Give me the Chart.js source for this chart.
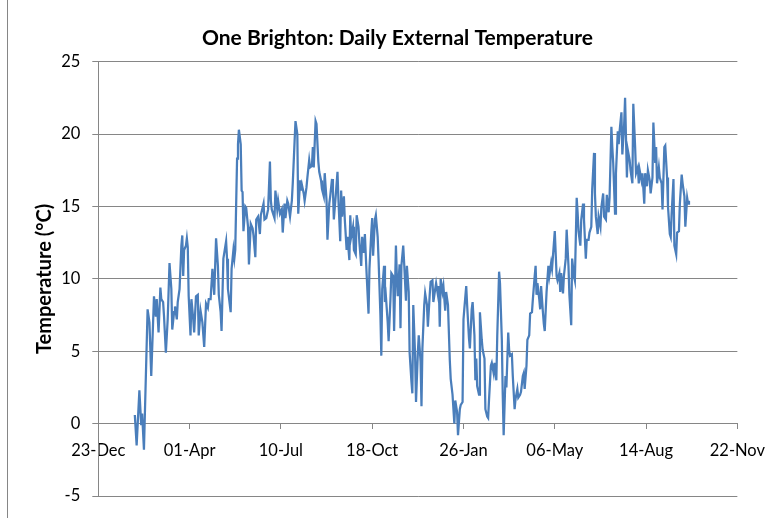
<!DOCTYPE html>
<html><head><meta charset="utf-8">
<script src="https://cdn.jsdelivr.net/npm/chart.js@4.4.0/dist/chart.umd.min.js"></script>
<style>html,body{margin:0;padding:0;background:#fff;} #wrap{width:777px;height:518px;}</style>
</head><body>
<div id="wrap"><canvas id="c" width="777" height="518"></canvas></div>
<script>
// Day offsets counted from 23-Dec-2011 (the first axis tick); one value per reading
const dayOffsets = [
  40,42,45,47,48, 50,54,56,58,61, 63,64,66,68,69, 71,72,74,76,78, 80,81,83,84,86, 87,89,91,92,93, 94,96,97,98,99, 101,102,104,105,107, 109,110,
  112,114,116,118,120, 121,123,125,127,128, 129,131,132,134,135, 137,140,141,142,145, 146,148,149,150,152, 153,154,156,157,158, 159,161,162,164,165, 167,169,170,172,173, 175,177,178,181,182, 184,185,
  186,188,189,190,193, 194,196,197,199,201, 202,204,205,207,208, 210,212,213,215,216, 218,219,221,222,223, 225,226,228,229,231, 232,234,235,236,238, 239,241,242,244,245, 247,248,250,251,253, 254,256,257,258,
  260,262,263,265,266, 267,269,270,272,273, 275,276,277,279,280, 282,283,285,286,288, 289,291,292,293,294, 296,297,299,300,301, 303,304,306,307,309, 310,311,313,314,315, 317,318,320,321,323, 324,326,327,328,330, 331,332,334,335,337, 338,340,341,343,
  344,345,347,348,350, 351,353,354,355,357, 358,360,361,363,364, 366,367,369,370,372, 373,374,375,377,378, 380,381,383,384,385, 386,388,389,390,391, 393,394,396,397,399, 400,401,403,404,406, 407,409,410,412,413, 414,
  415,417,418,420,421, 423,424,426,427,428, 430,431,433,434,436, 437,439,440,442,443, 444,446,447,449,450, 451,453,454,456,457, 459,460,462,463,465, 466,467,469,470,472, 473,475,476,478,479, 480,481,483,484,485, 487,488,489,
  491,493,494,496,497, 500,502,503,505,506, 507,509,510,512,513, 515,516,518,519,521, 522,524,525,526,528, 529,531,532,534,535, 537,538,540,541,543, 544,545,547,548,550, 551,553,554,556,557, 559,560,562,563,564,
  566,567,569,570,571, 573,574,576,577,579, 580,582,583,585,586, 588,589,591,592,593, 595,596,598,599,601, 602,604,605,607,608, 610,611,612,614,615, 617,618,620,621,623, 624,626,627,628,630, 631,633,634,636,637, 639,640,642,643,645, 646,647
];
// Daily external temperature (°C)
const temperatures = [
  0.6,-1.5,2.3,-0.1,0.7, -1.8,7.9,7.0,3.3,8.8, 7.4,8.6,6.3,9.4,8.6, 8.4,7.4,4.9,7.2,11.1, 9.3,6.5,7.7,8.1,7.2, 8.4,9.3,12.3,13.0,10.2, 12.0,12.3,12.8,12.2,8.8, 6.1,8.6,7.2,6.3,8.8, 8.9,6.1,
  7.8,7.0,5.3,8.3,8.0, 8.6,8.6,10.7,8.9,10.9, 12.8,10.9,8.9,7.7,6.4, 11.4,12.6,11.4,9.3,7.7, 10.7,12.0,11.4,12.0,18.3, 19.3,20.3,19.3,16.1,16.0, 13.3,15.0,14.9,13.6,11.0, 13.8,13.5,13.0,11.5,14.1, 14.3,13.1,14.4,15.2,14.1, 14.2,14.5,
  14.8,18.1,15.4,14.8,14.2, 16.1,14.8,15.4,14.5,14.8, 13.2,15.2,14.2,15.4,15.2, 14.3,15.4,16.6,19.5,20.9, 20.0,14.5,16.8,16.1,16.5, 15.9,15.4,16.3,17.0,18.2, 17.7,17.8,19.1,17.7,20.9, 20.7,18.1,17.4,16.8,16.2, 15.7,17.3,15.4,12.7,15.2, 15.7,16.9,16.1,14.1,
  15.7,17.4,15.5,12.6,16.1, 14.3,15.7,14.1,12.0,12.9, 11.3,14.4,12.9,13.6,12.0, 11.7,14.4,13.6,12.5,10.9, 12.9,11.8,13.1,11.6,10.2, 7.6,10.7,13.2,14.2,11.6, 14.1,14.4,12.9,11.3,7.5, 4.7,9.3,10.9,8.4,8.8, 7.0,5.7,8.6,10.4,10.2, 6.4,12.3,10.2,8.8,11.0, 6.6,10.9,12.3,11.1,8.5, 10.9,9.1,4.9,2.9,
  2.1,8.2,4.7,1.5,4.9, 6.1,4.3,1.2,5.2,8.2, 9.0,8.2,6.7,8.9,9.8, 9.9,8.4,9.3,9.7,8.9, 9.5,6.7,10.0,9.1,9.5, 7.8,9.1,8.2,6.3,4.4, 3.1,2.0,1.0,0.0,1.6, 0.8,-0.8,1.0,1.3,1.5, 7.2,8.0,9.5,8.2,5.9, 5.2,7.9,8.4,6.1,3.0, 4.5,
  2.6,2.0,7.7,5.8,5.1, 4.5,1.0,0.5,0.4,1.7, 4.0,4.2,3.5,4.2,3.0, 6.1,10.5,9.7,5.8,2.0, -0.8,3.3,2.5,6.3,5.1, 4.7,4.8,3.3,1.0,1.7, 2.4,1.8,2.0,2.2,3.3, 3.5,2.4,4.0,5.8,6.1, 7.6,7.7,8.6,10.2,10.9, 8.9,9.7,8.6,7.9,9.5, 7.7,6.9,6.4,
  9.1,10.9,10.2,11.1,10.7, 13.3,10.2,9.9,10.4,9.1, 10.4,9.0,10.2,11.4,13.4, 10.9,8.9,6.8,11.4,10.2, 9.9,15.6,14.6,13.3,12.3, 14.1,15.2,14.1,11.4,12.7, 12.7,13.2,13.6,16.2,18.7, 15.9,14.3,13.1,14.3,13.6, 14.9,15.9,14.3,14.1,15.8, 14.6,15.6,20.5,19.1,18.0,
  14.5,17.3,20.2,19.3,20.2, 21.5,18.6,20.7,22.5,17.0, 18.9,18.2,17.5,16.6,22.1, 19.1,17.3,17.7,16.6,17.5, 16.8,17.3,15.2,17.3,16.4, 17.5,16.8,15.9,17.0,20.8, 18.0,19.1,16.6,17.7,17.0, 16.6,14.8,19.1,19.2,17.0, 15.0,13.1,12.9,14.5,16.9, 12.3,11.7,13.2,13.3,15.2, 17.2,16.6,15.7,13.6,15.6, 15.2,15.4
];
// X-axis tick labels, one every 100 days from 23-Dec
const xTickLabels = ['23-Dec','01-Apr','10-Jul','18-Oct','26-Jan','06-May','14-Aug','22-Nov'];
const yMin = -5, yMax = 25, yStep = 5;
const chartTitle = 'One Brighton: Daily External Temperature';
const yTitle = 'Temperature (\u00B0C)';

if (dayOffsets.length !== temperatures.length) console.error('length mismatch', dayOffsets.length, temperatures.length);

const GRID = '#868686';
const FONT = 'Lato';

const borderPlugin = {
  id: 'outerBorder',
  afterDraw(chart) {
    const c = chart.ctx;
    c.save();
    c.strokeStyle = GRID; c.lineWidth = 1;
    c.beginPath(); c.moveTo(7.5, 0); c.lineTo(7.5, chart.height); c.stroke();
    c.restore();
  }
};

new Chart(document.getElementById('c').getContext('2d'), {
  type: 'line',
  data: {
    datasets: [{
      data: dayOffsets.map((d, i) => ({ x: d, y: temperatures[i] })),
      borderColor: '#4A7EBB', borderWidth: 2.25, pointRadius: 0, tension: 0, fill: false
    }]
  },
  options: {
    responsive: false, animation: false, devicePixelRatio: 1,
    layout: { padding: { left: 18, right: 0, top: 0, bottom: 20.1 } },
    plugins: {
      legend: { display: false }, tooltip: { enabled: false },
      title: { display: true, text: chartTitle, color: '#000',
        font: { family: FONT, size: 21, weight: 'bold' }, padding: { top: 25.9, bottom: 10.6 } }
    },
    scales: {
      x: {
        type: 'linear', position: { y: 0 }, min: 0, max: 700,
        ticks: { stepSize: 100, autoSkip: false, maxRotation: 0, color: '#000',
          font: { family: FONT, size: 16.5 }, padding: 12,
          callback: v => xTickLabels[Math.round(v / 100)] },
        grid: { display: true, drawOnChartArea: false, drawTicks: true, tickLength: 5, color: GRID },
        border: { display: true, color: GRID, width: 1 }
      },
      y: {
        type: 'linear', position: 'left', min: yMin, max: yMax,
        afterFit: s => { s.width = 80.3; },
        ticks: { stepSize: yStep, color: '#000', font: { family: FONT, size: 16.5 }, padding: 12 },
        grid: { color: GRID, tickLength: 6, drawTicks: true },
        border: { display: true, color: GRID },
        title: { display: true, text: yTitle, color: '#000',
          font: { family: FONT, size: 20, weight: 'bold' }, padding: { top: 15, bottom: 0 } }
      },
      yRight: {
        type: 'linear', position: 'right', display: true,
        afterFit: s => { s.width = 39.3; },
        ticks: { display: false }, grid: { display: false }, border: { display: false }
      }
    }
  },
  plugins: [borderPlugin]
});
</script>
</body></html>
